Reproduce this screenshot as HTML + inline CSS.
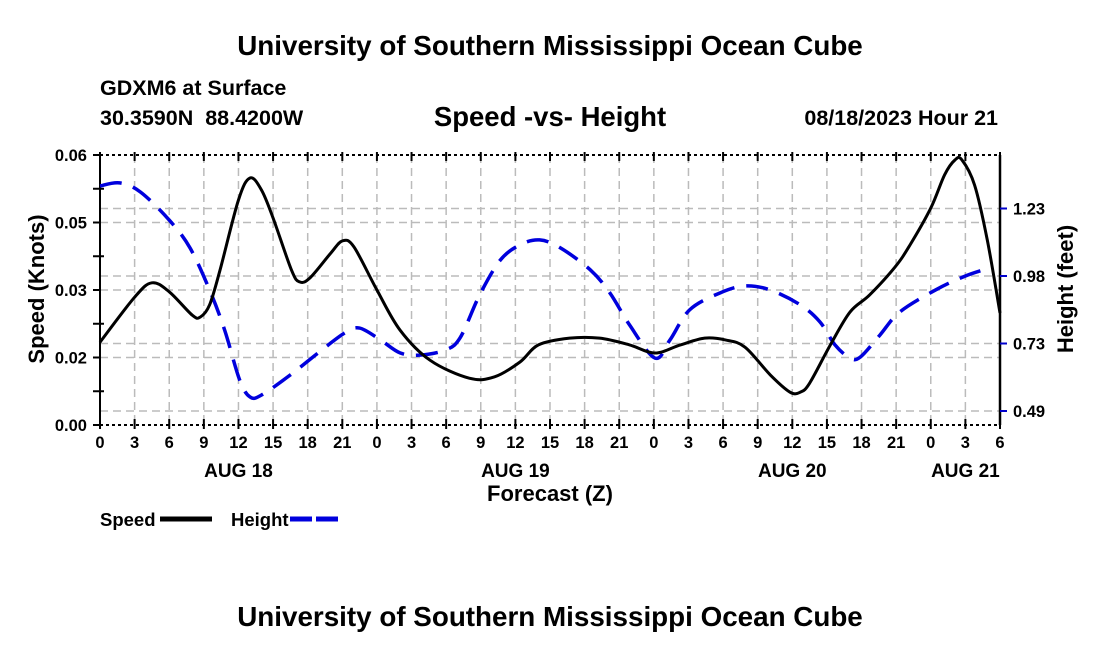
<!DOCTYPE html>
<html><head><meta charset="utf-8"><style>
body{margin:0;background:#fff}
svg text{font-family:"Liberation Sans",sans-serif;font-weight:bold;fill:#000}
</style></head><body>
<svg id="c" width="1100" height="650" xmlns="http://www.w3.org/2000/svg">
<text x="550" y="55" font-size="27.8" text-anchor="middle">University of Southern Mississippi Ocean Cube</text>
<text x="100" y="95" font-size="21.5">GDXM6 at Surface</text>
<text x="100" y="125" font-size="21.5">30.3590N&#160;&#160;88.4200W</text>
<text x="550" y="126" font-size="27.5" text-anchor="middle">Speed -vs- Height</text>
<text x="998" y="125" font-size="21.5" text-anchor="end">08/18/2023 Hour 21</text>
<text x="550" y="626" font-size="27.8" text-anchor="middle">University of Southern Mississippi Ocean Cube</text>
<g id="grid"></g><g id="axes"></g><g id="series"></g>
<text transform="translate(44,289) rotate(-90)" font-size="22" text-anchor="middle">Speed (Knots)</text>
<text transform="translate(1073,289) rotate(-90)" font-size="22" text-anchor="middle">Height (feet)</text>
<text x="550" y="501" font-size="22" text-anchor="middle">Forecast (Z)</text>
<g>
<text x="100" y="526" font-size="18.5">Speed</text>
<line x1="160" y1="519" x2="212" y2="519" stroke="#000" stroke-width="5"/>
<text x="231" y="526" font-size="18.5">Height</text>
<line x1="290" y1="519" x2="342" y2="519" stroke="#0000dd" stroke-width="5" stroke-dasharray="22 4"/>
</g>
</svg>
<script>
const speedHours=[0,3,4.5,6,8,8.7,9.5,10.4,12,13,14,15,16.6,17.3,18.2,20,21,22,24,26,28.6,32,34.2,36.4,38,40.7,43.3,45.9,48.1,50.3,52.4,54.2,55.9,58.1,59.8,60.7,61.5,63.3,65,66.7,68.9,70.2,72,73.2,74.1,74.7,75.8,76.9,78];
const speedValues=[0.0184,0.0284,0.0316,0.0296,0.0244,0.0240,0.0267,0.0344,0.0500,0.0549,0.0522,0.0460,0.0344,0.0318,0.0327,0.0382,0.0409,0.0396,0.0300,0.0211,0.0144,0.0104,0.0107,0.0140,0.0178,0.0193,0.0193,0.0178,0.0160,0.0178,0.0193,0.0189,0.0173,0.0111,0.0073,0.0073,0.0093,0.0178,0.0251,0.0289,0.0351,0.0400,0.0482,0.0556,0.0589,0.0589,0.0533,0.0411,0.0249];
const heightHours=[0,1.7,3.5,6,7.8,9.5,10.8,12.1,13,14,16.5,19,21.2,22.5,24.3,26,27.7,29.9,31.2,32.9,34.7,36.4,38.1,39.9,42.5,44.2,45.9,48.1,49.4,51.1,53.7,55.9,58.1,60.7,62.4,63.7,65,65.9,67.6,69.3,72.4,75,77.1];
const heightValues=[1.307,1.318,1.285,1.183,1.082,0.929,0.784,0.603,0.541,0.548,0.621,0.704,0.773,0.791,0.748,0.701,0.693,0.711,0.755,0.911,1.038,1.093,1.111,1.082,1.002,0.918,0.802,0.682,0.748,0.857,0.918,0.944,0.929,0.875,0.813,0.730,0.682,0.686,0.766,0.849,0.929,0.980,1.009];
const xTickLabels=["0","3","6","9","12","15","18","21","0","3","6","9","12","15","18","21","0","3","6","9","12","15","18","21","0","3","6"];
const dayLabels=["AUG 18","AUG 19","AUG 20","AUG 21"];
const dayHours=[12,36,60,75];
const yTickValues=[0,0.015,0.03,0.045,0.06];
const yTickLabels=["0.00","0.02","0.03","0.05","0.06"];
const yGridValues=[0.015,0.03,0.045];
const y2TickValues=[0.49,0.735,0.98,1.225];
const y2TickLabels=["0.49","0.73","0.98","1.23"];
const L=100,R=1000,T=155,B=425;
const X=h=>L+h/78*(R-L);
const Y=v=>B-v/0.06*(B-T);
const Y2=v=>411-(v-0.49)/0.245*67.5;
const NS="http://www.w3.org/2000/svg";
function mk(tag,attrs,parent){const e=document.createElementNS(NS,tag);for(const k in attrs)e.setAttribute(k,attrs[k]);document.getElementById(parent).appendChild(e);return e;}
for(let i=1;i<26;i++){const g=mk('line',{x1:X(i*3),x2:X(i*3),y1:T,y2:B,stroke:'#bbb','stroke-width':1.5,'stroke-dasharray':'8 5'},'grid');

}
yGridValues.forEach(v=>{const g=mk('line',{x1:L,x2:R,y1:Y(v),y2:Y(v),stroke:'#bbb','stroke-width':1.5,'stroke-dasharray':'8 5'},'grid');

});
y2TickValues.forEach(v=>{const g=mk('line',{x1:L,x2:R,y1:Y2(v),y2:Y2(v),stroke:'#bbb','stroke-width':1.5,'stroke-dasharray':'8 5'},'grid');

});
let a=mk('line',{x1:L,x2:L,y1:T,y2:B,stroke:'#000','stroke-width':2},'axes');
a=mk('line',{x1:R,x2:R,y1:T,y2:B,stroke:'#000','stroke-width':2.5},'axes');
a=mk('line',{x1:L,x2:R,y1:B,y2:B,stroke:'#000','stroke-width':2,'stroke-dasharray':'3 3'},'axes');
a=mk('line',{x1:L,x2:R,y1:T,y2:T,stroke:'#000','stroke-width':2,'stroke-dasharray':'3 3'},'axes');
xTickLabels.forEach((t,i)=>{const x=X(i*3);
mk('line',{x1:x,x2:x,y1:B-6,y2:B+4,stroke:'#000','stroke-width':2},'axes');
mk('line',{x1:x,x2:x,y1:T-3,y2:T+6,stroke:'#000','stroke-width':2},'axes');
const e=mk('text',{x:x,y:448,'font-size':16.5,'text-anchor':'middle'},'axes');e.textContent=t;

});
dayLabels.forEach((t,i)=>{const e=mk('text',{x:X(dayHours[i]),y:477,'font-size':19,'text-anchor':'middle'},'axes');e.textContent=t;

});
for(let i=0;i<=8;i++){const y=B-i*33.75;mk('line',{x1:L-7,x2:L+(i%2?4:0),y1:y,y2:y,stroke:'#000','stroke-width':2},'axes');}
yTickLabels.forEach((lab,i)=>{const y=Y(yTickValues[i]);
const e=mk('text',{x:L-13,y:y+6,'font-size':16.5,'text-anchor':'end'},'axes');e.textContent=lab;

});
y2TickValues.forEach((v,i)=>{const y=Y2(v);mk('line',{x1:R,x2:R+7,y1:y,y2:y,stroke:'#0000cc','stroke-width':2},'axes');
const e=mk('text',{x:R+13,y:y+6,'font-size':16.5},'axes');e.textContent=y2TickLabels[i];

});
function path(xs,ys){const p=xs.map((x,i)=>[x,ys[i]]);let d=`M${p[0][0]},${p[0][1]}`;
for(let i=0;i<p.length-1;i++){const p0=p[Math.max(0,i-1)],p1=p[i],p2=p[i+1],p3=p[Math.min(p.length-1,i+2)];
d+=` C${p1[0]+(p2[0]-p0[0])/6},${p1[1]+(p2[1]-p0[1])/6} ${p2[0]-(p3[0]-p1[0])/6},${p2[1]-(p3[1]-p1[1])/6} ${p2[0]},${p2[1]}`;}return d;}
const hl=mk('path',{d:path(heightHours.map(X),heightValues.map(Y2)),fill:'none',stroke:'#0000dd','stroke-width':3.5,'stroke-dasharray':'22 12'},'series');


const sl=mk('path',{d:path(speedHours.map(X),speedValues.map(Y)),fill:'none',stroke:'#000','stroke-width':3},'series');


</script>
</body></html>
